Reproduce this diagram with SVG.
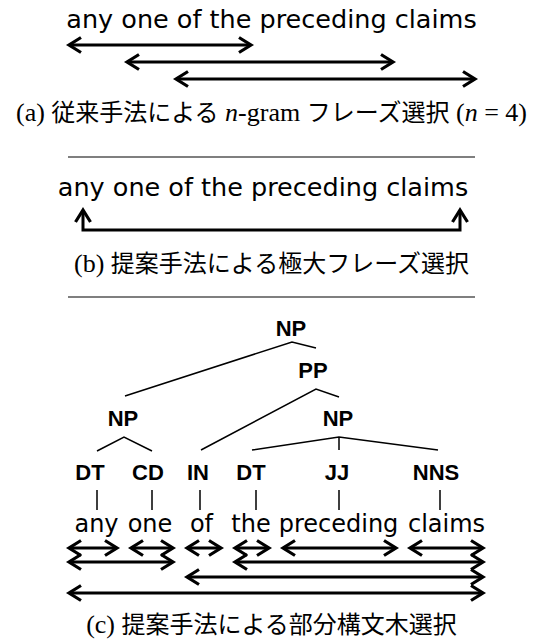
<svg xmlns="http://www.w3.org/2000/svg" width="543" height="643" viewBox="0 0 543 643">
<style>
.sent{font-family:"DejaVu Sans",sans-serif;font-size:25.5px;fill:#000}
.word{font-family:"DejaVu Sans",sans-serif;font-size:24px;fill:#000;text-anchor:middle}
.lab{font-family:"Liberation Sans",Arial,sans-serif;font-weight:bold;font-size:22px;fill:#000;text-anchor:middle}
.cap{font-family:"Noto Sans CJK JP",sans-serif;font-size:24px;fill:#000;text-anchor:middle}
.ser{font-family:"Liberation Serif",serif;font-size:26px}
.it{font-family:"Liberation Serif",serif;font-style:italic;font-size:26px}
.arr{fill:none;stroke:#000;stroke-width:3;marker-start:url(#ah);marker-end:url(#ah)}
.tree{fill:none;stroke:#000;stroke-width:1.5}
.rule{stroke:#000;stroke-width:1.2}
</style>
<defs>
<marker id="ah" markerUnits="userSpaceOnUse" markerWidth="30" markerHeight="30" viewBox="-15 -15 30 30" refX="0" refY="0" orient="auto-start-reverse">
<path d="M-12,-7.5 L0,0 L-12,7.5" fill="none" stroke="#000" stroke-width="3.2"/>
</marker>
</defs>
<rect width="543" height="643" fill="#fff"/>

<g id="panel-a">
<text class="sent" x="271.5" y="28" text-anchor="middle">any one of the preceding claims</text>
<g id="a-arrows">
<path class="arr" d="M69,45 H251"/>
<path class="arr" d="M127,62 H393"/>
<path class="arr" d="M176,79 H475"/>
</g>
<text class="cap" x="271.5" y="121"><tspan class="ser">(a) </tspan>従来手法による<tspan class="ser"> </tspan><tspan class="it">n</tspan><tspan class="ser">-gram </tspan>フレーズ選択<tspan class="ser"> (</tspan><tspan class="it">n</tspan><tspan class="ser"> = 4)</tspan></text>
</g>

<line class="rule" x1="68" y1="157" x2="475" y2="157"/>

<g id="panel-b">
<text class="sent" x="263" y="196" text-anchor="middle">any one of the preceding claims</text>
<g id="b-arrows">
<path class="arr" d="M83,210 V230 H460 V210"/>
</g>
<text class="cap" x="271.5" y="272"><tspan class="ser">(b) </tspan>提案手法による極大フレーズ選択</text>
</g>

<line class="rule" x1="68" y1="297" x2="475" y2="297"/>

<g id="panel-c">
<g id="tree-edges">
<path class="tree" d="M125,396 L292,342 L316,348"/>
<path class="tree" d="M201,450 L316,389 L339,397"/>
<path class="tree" d="M97,451 L124,437 L152,451"/>
<path class="tree" d="M252,450 L339,437 L438,450 M339,437 V450"/>
<path class="tree" d="M97,490 V510 M152,490 V510 M200,490 V510 M256,490 V510 M339,490 V510 M440,490 V510"/>
</g>
<g id="n-np-root"><text class="lab" x="291" y="336">NP</text></g>
<g id="n-pp"><text class="lab" x="313" y="378">PP</text></g>
<g id="n-np-left"><text class="lab" x="123" y="426">NP</text></g>
<g id="n-np-right"><text class="lab" x="338" y="426">NP</text></g>
<g id="n-dt1"><text class="lab" x="90" y="480">DT</text></g>
<g id="n-cd"><text class="lab" x="148" y="480">CD</text></g>
<g id="n-in"><text class="lab" x="198" y="480">IN</text></g>
<g id="n-dt2"><text class="lab" x="251" y="480">DT</text></g>
<g id="n-jj"><text class="lab" x="337" y="480">JJ</text></g>
<g id="n-nns"><text class="lab" x="436" y="480">NNS</text></g>
<g id="words">
<text class="word" x="96.5" y="532">any</text>
<text class="word" x="150" y="532">one</text>
<text class="word" x="201.5" y="532">of</text>
<text class="word" x="251" y="532">the</text>
<text class="word" x="338.5" y="532">preceding</text>
<text class="word" x="446.5" y="532">claims</text>
</g>
<g id="c-arrows">
<path class="arr" d="M69,548 H117"/>
<path class="arr" d="M131,548 H173"/>
<path class="arr" d="M187,548 H221"/>
<path class="arr" d="M235,548 H269"/>
<path class="arr" d="M283,548 H396"/>
<path class="arr" d="M410,548 H483"/>
<path class="arr" d="M69,562 H173"/>
<path class="arr" d="M235,562 H483"/>
<path class="arr" d="M187,577 H483"/>
<path class="arr" d="M69,593 H483"/>
</g>
<text class="cap" x="271.5" y="633"><tspan class="ser">(c) </tspan>提案手法による部分構文木選択</text>
</g>
</svg>
